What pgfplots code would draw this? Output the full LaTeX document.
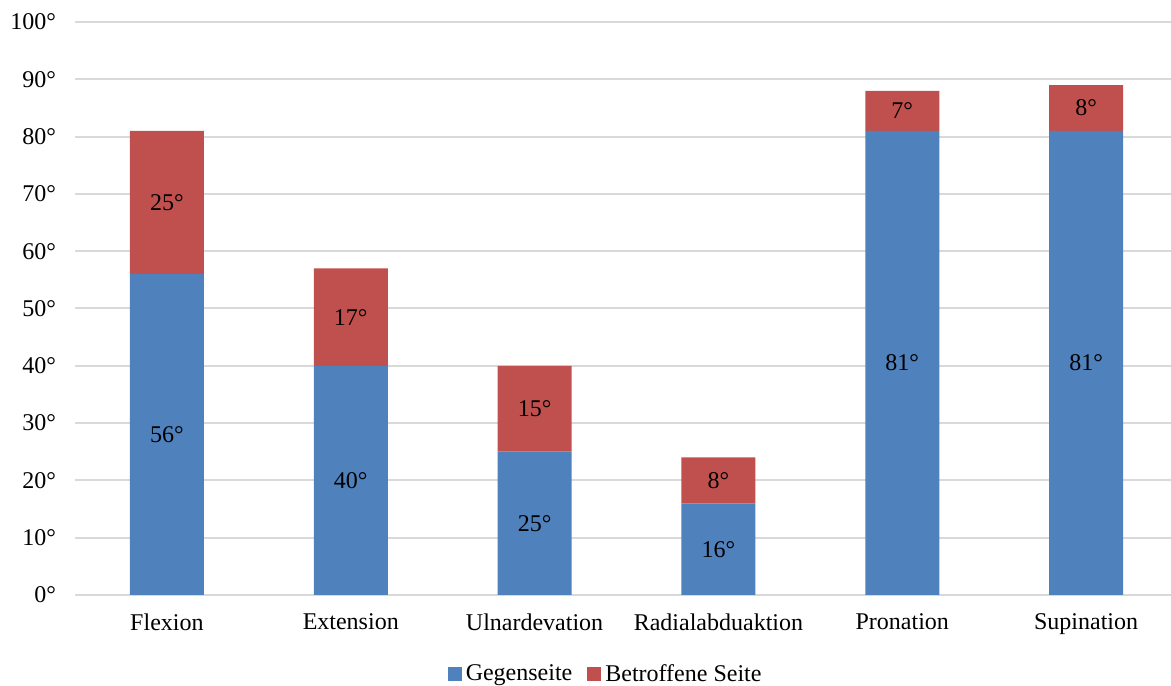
\documentclass[border=0pt]{standalone}
\usepackage{pgfplots}
\pgfplotsset{compat=1.18}
\usepackage{pgfplotstable}
\usepackage{fontspec}
\setmainfont{Liberation Serif}

\definecolor{gegen}{HTML}{4F81BD}
\definecolor{betr}{HTML}{C0504D}
\definecolor{gridgray}{HTML}{D9D9D9}

% Range of motion (degrees): unaffected side and affected side
\pgfplotstableread{
x gegen betr
0 56 25
1 40 17
2 25 15
3 16 8
4 81 7
5 81 8
}\rom

\pgfplotsset{
  rom base/.style={
    at={(37.5bp,45.5bp)}, anchor=south west,
    scale only axis, width=551.5bp, height=286.5bp,
    xmin=-0.5, xmax=5.5, ymin=0, ymax=100,
    /pgf/number format/assume math mode=true,
  },
}

\begin{document}
\begin{tikzpicture}[font=\fontsize{12bp}{14bp}\selectfont]
\useasboundingbox (0,0) rectangle (585.5bp,343bp);

% stacked bars with legend
\begin{axis}[rom base,
  ybar stacked, bar width=37bp,
  axis x line*=bottom, axis y line*=left,
  y axis line style={draw=none},
  x axis line style={draw=gridgray, line width=1bp, -},
  major tick length=0pt,
  ytick={0,10,...,100},
  xtick={0,...,5},
  xticklabels={Flexion,Extension,Ulnardevation,Radialabduaktion,Pronation,Supination},
  yticklabel={\pgfmathprintnumber{\tick}°},
  ymajorgrids, grid style={draw=gridgray, line width=1bp},
  xticklabel style={yshift=-6bp},
  yticklabel style={xshift=-6bp},
  legend columns=2,
  legend style={at={(0.482,-0.138)}, anchor=center, draw=none, fill=none,
    font=\fontsize{12bp}{14bp}\selectfont,
    /tikz/every even column/.append style={column sep=5.5bp}},
]
\addplot[fill=gegen, draw=none,
  legend image code/.code={\fill[gegen] (0bp,-3.5bp) rectangle (7bp,3.5bp);}]
  table[x=x, y=gegen] {\rom};
\addlegendentry{Gegenseite}
\addplot[fill=betr, draw=none,
  legend image code/.code={\fill[betr] (0bp,-3.5bp) rectangle (7bp,3.5bp);}]
  table[x=x, y=betr] {\rom};
\addlegendentry{Betroffene Seite}
\end{axis}

% value labels centred in each segment
\begin{axis}[rom base, hide axis]
\addplot[draw=none, mark=none, nodes near coords={\pgfmathprintnumber{\pgfplotspointmeta}°},
  nodes near coords style={anchor=center, text=black},
  point meta=explicit]
  table[x=x, y expr=\thisrow{gegen}/2, meta=gegen] {\rom};
\addplot[draw=none, mark=none, nodes near coords={\pgfmathprintnumber{\pgfplotspointmeta}°},
  nodes near coords style={anchor=center, text=black},
  point meta=explicit]
  table[x=x, y expr=\thisrow{gegen}+\thisrow{betr}/2, meta=betr] {\rom};
\end{axis}
\end{tikzpicture}
\end{document}
